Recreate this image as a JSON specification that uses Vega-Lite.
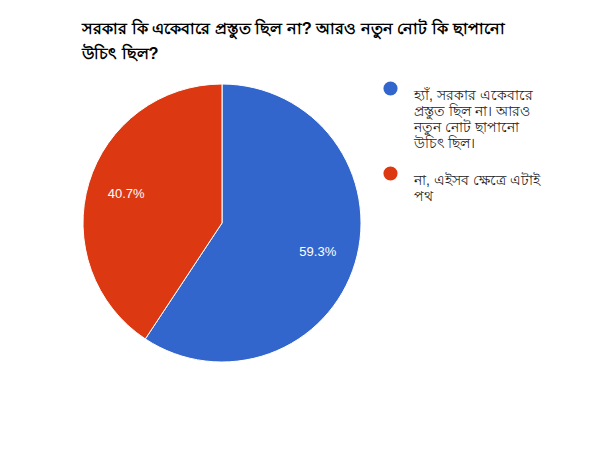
{
  "$schema": "https://vega.github.io/schema/vega-lite/v6.json",
  "width": 278,
  "height": 278,
  "autosize": "none",
  "padding": {"left": 83, "top": 84, "right": 239, "bottom": 88},
  "background": "white",
  "title": {
    "text": ["সরকার কি একেবারে প্রস্তুত ছিল না? আরও নতুন নোট কি ছাপানো", "উচিৎ ছিল?"],
    "anchor": "start",
    "frame": "group",
    "font": "Arial",
    "fontSize": 16.4,
    "fontWeight": "bold",
    "color": "#000000",
    "lineHeight": 25,
    "offset": 19,
    "dx": -1
  },
  "data": {
    "values": [
      {"answer": "হ্যাঁ, সরকার একেবারে প্রস্তুত ছিল না। আরও নতুন নোট ছাপানো উচিৎ ছিল।", "share": 0.593, "order": 1},
      {"answer": "না, এইসব ক্ষেত্রে এটাই পথ", "share": 0.407, "order": 2}
    ]
  },
  "encoding": {
    "theta": {"field": "share", "type": "quantitative", "stack": true},
    "order": {"field": "order", "type": "quantitative"}
  },
  "layer": [
    {
      "mark": {"type": "arc", "stroke": "white", "strokeWidth": 1},
      "encoding": {
        "color": {
          "field": "answer",
          "type": "nominal",
          "sort": {"field": "order"},
          "scale": {"range": ["#3366cc", "#dc3912"]},
          "legend": {
            "title": null,
            "orient": "none",
            "legendX": 300,
            "legendY": -3,
            "symbolType": "circle",
            "symbolSize": 200,
            "symbolStrokeWidth": 0,
            "symbolOpacity": 1,
            "labelFont": "Arial",
            "labelFontSize": 14,
            "labelColor": "#222222",
            "labelLimit": 200,
            "labelBaseline": "top",
            "labelOffset": 16,
            "rowPadding": 15,
            "labelExpr": "indexof(datum.label, 'হ্যাঁ') == 0 ? ['হ্যাঁ, সরকার একেবারে', 'প্রস্তুত ছিল না। আরও', 'নতুন নোট ছাপানো', 'উচিৎ ছিল।'] : ['না, এইসব ক্ষেত্রে এটাই', 'পথ']"
          }
        }
      }
    },
    {
      "mark": {"type": "text", "radius": 100, "font": "Arial", "fontSize": 13, "color": "white"},
      "encoding": {
        "text": {"field": "share", "type": "quantitative", "format": ".1%"},
        "detail": {"field": "answer"}
      }
    }
  ]
}
